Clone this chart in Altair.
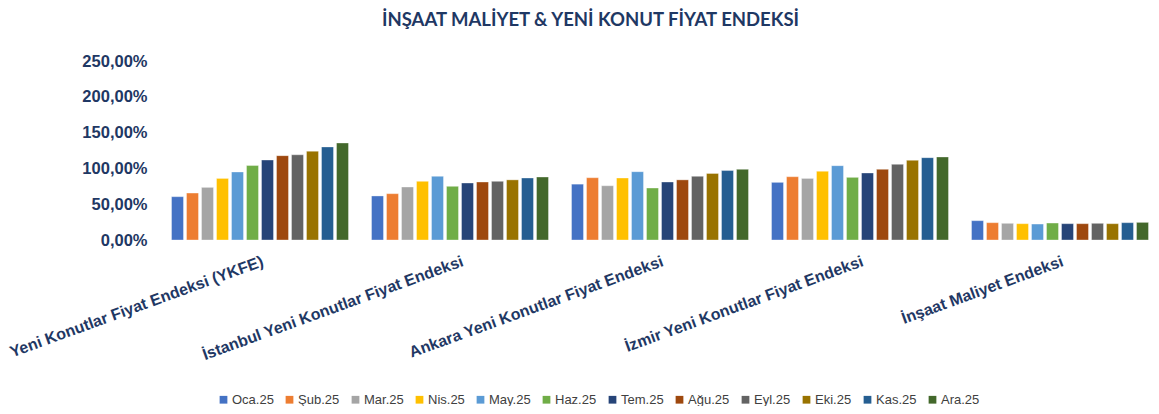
import altair as alt
import pandas as pd

categories = [
    "Yeni Konutlar Fiyat Endeksi (YKFE)",
    "İstanbul Yeni Konutlar Fiyat Endeksi",
    "Ankara Yeni Konutlar Fiyat Endeksi",
    "İzmir Yeni Konutlar Fiyat Endeksi",
    "İnşaat Maliyet Endeksi",
]
months = ["Oca.25", "Şub.25", "Mar.25", "Nis.25", "May.25", "Haz.25",
          "Tem.25", "Ağu.25", "Eyl.25", "Eki.25", "Kas.25", "Ara.25"]
colors = ["#4472C4", "#ED7D31", "#A5A5A5", "#FFC000", "#5B9BD5", "#70AD47",
          "#264478", "#9E480E", "#636363", "#997300", "#255E91", "#43682B"]

ykfe = [60.5, 65.6, 73.5, 86.0, 95.0, 104.0, 111.7, 117.8, 119.0, 124.0, 130.0, 135.5]
istanbul = [61.5, 64.7, 74.0, 82.0, 89.0, 75.0, 79.6, 81.0, 82.0, 84.0, 86.6, 88.0]
ankara = [78.0, 87.0, 75.8, 86.6, 95.4, 72.6, 81.0, 84.0, 89.0, 93.0, 97.0, 98.7]
izmir = [80.5, 88.4, 86.0, 96.0, 103.8, 87.5, 93.6, 98.7, 105.7, 111.3, 115.0, 116.0]
insaat = [27.0, 24.2, 23.3, 22.8, 22.3, 23.7, 22.8, 22.8, 23.3, 22.8, 24.2, 24.6]

series = [ykfe, istanbul, ankara, izmir, insaat]
rows = []
for cat, vals in zip(categories, series):
    for m, v in zip(months, vals):
        rows.append({"Kategori": cat, "Ay": m, "Değer": v})
df = pd.DataFrame(rows)

navy = "#1F3864"

bars = alt.Chart(df).mark_bar(stroke="#ffffff", strokeWidth=0.6, strokeOpacity=0.6).encode(
    x=alt.X("Kategori:N", sort=categories,
            scale=alt.Scale(paddingInner=0.1, paddingOuter=0.05, range=[0, 1000]),
            axis=alt.Axis(title=None, labelAngle=-20, labelAlign="right", labelBaseline="top",
                          labelFont="Liberation Sans", labelFontWeight="bold", labelFontSize=16,
                          labelColor=navy, domain=False, ticks=False, labelPadding=13,
                          labelLimit=400)),
    xOffset=alt.XOffset("Ay:N", sort=months, scale=alt.Scale(paddingInner=0.2, paddingOuter=0.1)),
    y=alt.Y("Değer:Q", scale=alt.Scale(domain=[0, 250], nice=False),
            axis=alt.Axis(title=None, values=[0, 50, 100, 150, 200, 250],
                          labelExpr="replace(format(datum.value, '.2f'), '.', ',') + '%'",
                          labelFont="Liberation Sans", labelFontWeight="bold", labelFontSize=16.5,
                          labelColor=navy, domain=False, ticks=False, grid=False, labelPadding=13)),
    color=alt.Color("Ay:N", sort=months, scale=alt.Scale(domain=months, range=colors),
                    legend=alt.Legend(title=None, orient="none", legendX=57, legendY=332,
                                      direction="horizontal", columns=12, symbolType="square",
                                      symbolSize=60, symbolStrokeWidth=0, labelFont="Liberation Sans",
                                      labelFontSize=13, labelColor="#404040", columnPadding=9,
                                      labelOffset=2)),
)

chart = bars.properties(
    width=991, height=179,
    autosize=alt.AutoSizeParams(type="none"),
    padding={"left": 152, "top": 53, "right": 0, "bottom": 166},
    title=alt.Title("İNŞAAT MALİYET & YENİ KONUT FİYAT ENDEKSİ", font="Lato", fontSize=18.5,
                    fontWeight="bold", color=navy, anchor="middle", dx=-65, offset=24),
).configure_view(stroke=None)

chart.save("out.html", embed_options={"renderer": "svg", "actions": False})
